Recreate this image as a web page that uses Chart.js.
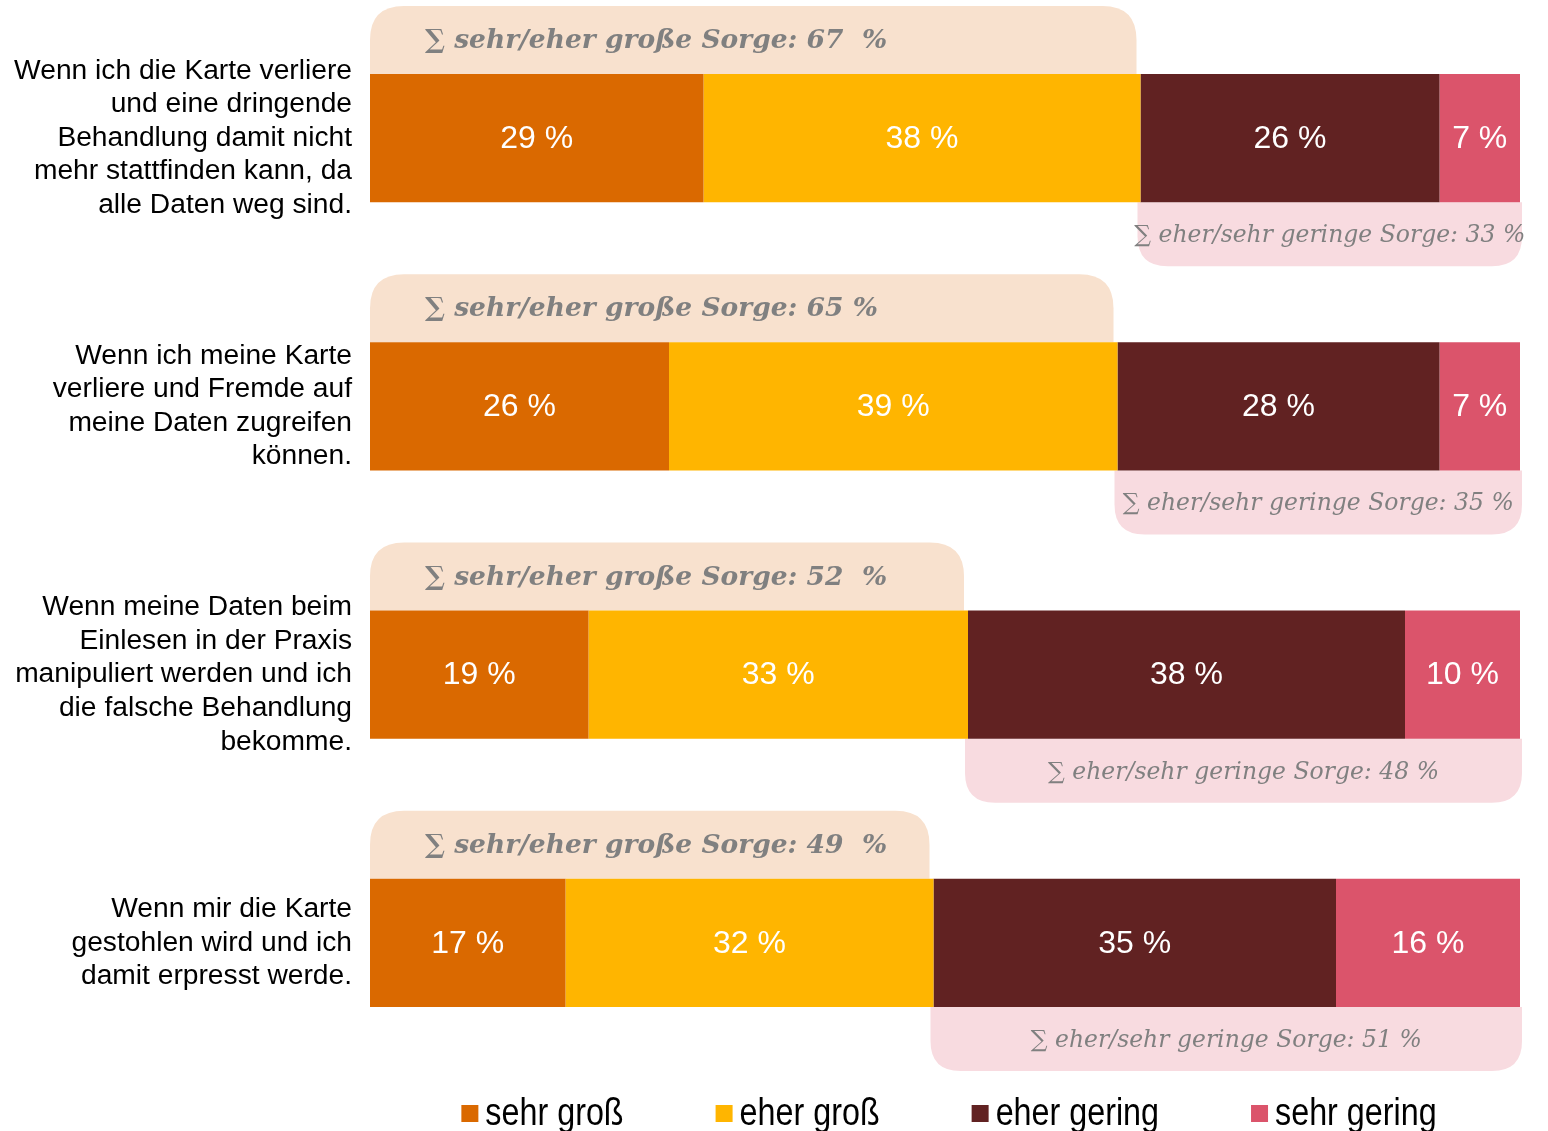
<!DOCTYPE html>
<html>
<head>
<meta charset="utf-8">
<script src="https://cdn.jsdelivr.net/npm/chart.js@4.4.0/dist/chart.umd.min.js"></script>
<style>
  html, body { margin: 0; padding: 0; background: #fff; }
  #wrap { width: 1548px; height: 1131px; }
</style>
</head>
<body>
<div id="wrap"><canvas id="chart"></canvas></div>
<script>
const categories = [
  ["Wenn ich die Karte verliere", "und eine dringende", "Behandlung damit nicht", "mehr stattfinden kann, da", "alle Daten weg sind."],
  ["Wenn ich meine Karte", "verliere und Fremde auf", "meine Daten zugreifen", "können."],
  ["Wenn meine Daten beim", "Einlesen in der Praxis", "manipuliert werden und ich", "die falsche Behandlung", "bekomme."],
  ["Wenn mir die Karte", "gestohlen wird und ich", "damit erpresst werde."]
];
const seriesNames = ["sehr groß", "eher groß", "eher gering", "sehr gering"];
const sehrGross = [29, 26, 19, 17];
const eherGross = [38, 39, 33, 32];
const eherGering = [26, 28, 38, 35];
const sehrGering = [7, 7, 10, 16];
const seriesColors = ["#DA6900", "#FFB500", "#612222", "#DB546B"];
// spacing before "%" as printed in the source
const highGap = ["  ", " ", "  ", "  "];

function roundedRect(ctx, x, y, w, h, r) {
  // r = [tl, tr, br, bl]
  ctx.beginPath();
  ctx.moveTo(x + r[0], y);
  ctx.lineTo(x + w - r[1], y);
  ctx.quadraticCurveTo(x + w, y, x + w, y + r[1]);
  ctx.lineTo(x + w, y + h - r[2]);
  ctx.quadraticCurveTo(x + w, y + h, x + w - r[2], y + h);
  ctx.lineTo(x + r[3], y + h);
  ctx.quadraticCurveTo(x, y + h, x, y + h - r[3]);
  ctx.lineTo(x, y + r[0]);
  ctx.quadraticCurveTo(x, y, x + r[0], y);
  ctx.closePath();
}

const sumBoxes = {
  id: "sumBoxes",
  beforeDatasetsDraw(chart) {
    const ctx = chart.ctx;
    const xs = chart.scales.x;
    const meta = chart.getDatasetMeta(0);
    ctx.save();
    meta.data.forEach((el, i) => {
      const top = el.y - el.height / 2;
      const bottom = el.y + el.height / 2;
      const high = sehrGross[i] + eherGross[i];
      const low = eherGering[i] + sehrGering[i];
      const x0 = xs.getPixelForValue(0);
      const xm = xs.getPixelForValue(high);
      const x1 = xs.getPixelForValue(100);

      ctx.fillStyle = "#F8E1CE";
      roundedRect(ctx, x0, top - 68, xm - x0 - 4, 68, [34, 34, 0, 0]);
      ctx.fill();

      ctx.fillStyle = "#F8DBE0";
      roundedRect(ctx, xm - 3, bottom, x1 - xm + 5, 64, [0, 0, 30, 30]);
      ctx.fill();

      ctx.fillStyle = "#808080";
      ctx.textBaseline = "middle";
      ctx.font = "italic bold 26.5px 'DejaVu Serif'";
      ctx.textAlign = "left";
      ctx.fillText("∑ sehr/eher große Sorge: " + high + highGap[i] + "%", x0 + 55, top - 33);

      ctx.font = "italic 23.5px 'DejaVu Serif'";
      ctx.textAlign = "center";
      ctx.fillText("∑ eher/sehr geringe Sorge: " + low + " %", (xm - 3 + x1 + 2) / 2, bottom + 34);
    });
    ctx.restore();
  },
  afterDatasetsDraw(chart) {
    const ctx = chart.ctx;
    ctx.save();
    ctx.fillStyle = "#fff";
    ctx.font = "32px 'Liberation Sans', Arial";
    ctx.textAlign = "center";
    ctx.textBaseline = "middle";
    chart.data.datasets.forEach((ds, d) => {
      chart.getDatasetMeta(d).data.forEach((el, i) => {
        const c = el.getCenterPoint();
        ctx.fillText(ds.data[i] + " %", c.x, c.y + 1);
      });
    });
    ctx.restore();
  },
  afterDraw(chart) {
    // legend centred under the plot area, condensed text
    const ctx = chart.ctx;
    const area = chart.chartArea;
    const squeeze = 0.85;
    ctx.save();
    ctx.font = "38px 'Liberation Sans', Arial";
    ctx.textBaseline = "middle";
    ctx.textAlign = "left";
    const box = 17, gap = 7, itemGap = 92;
    const widths = seriesNames.map((n) => box + gap + ctx.measureText(n).width * squeeze);
    const total = widths.reduce((a, b) => a + b, 0) + itemGap * (seriesNames.length - 1);
    let x = (area.left + area.right) / 2 - total / 2 + 4;
    const y = 1114;
    seriesNames.forEach((n, i) => {
      ctx.fillStyle = seriesColors[i];
      ctx.fillRect(x, y - 9, box, box);
      ctx.fillStyle = "#000";
      ctx.save();
      ctx.translate(x + box + gap, y + 1);
      ctx.scale(squeeze, 1);
      ctx.fillText(n, 0, 0);
      ctx.restore();
      x += widths[i] + itemGap;
    });
    ctx.restore();
  }
};

const values = [sehrGross, eherGross, eherGering, sehrGering];

new Chart(document.getElementById("chart"), {
  type: "bar",
  data: {
    labels: categories,
    datasets: seriesNames.map((name, i) => ({
      label: name,
      data: values[i],
      backgroundColor: seriesColors[i],
      borderWidth: 0,
      barPercentage: 1,
      categoryPercentage: 128 / 268.2
    }))
  },
  options: {
    indexAxis: "y",
    responsive: true,
    maintainAspectRatio: false,
    animation: false,
    layout: { padding: { left: 0, right: 28, top: 4, bottom: 54 } },
    plugins: {
      legend: { display: false },
      tooltip: { enabled: false }
    },
    scales: {
      x: { stacked: true, min: 0, max: 100, display: false },
      y: {
        stacked: true,
        grid: { display: false, drawTicks: false },
        border: { display: false },
        afterFit(scale) {
          scale.width = 370;
          scale.paddingTop = 0;
          scale.paddingBottom = 0;
        },
        ticks: {
          color: "#000",
          padding: 18,
          font: { family: "'Liberation Sans', Arial", size: 28.2, lineHeight: 1.19 }
        }
      }
    }
  },
  plugins: [sumBoxes]
});
</script>
</body>
</html>
